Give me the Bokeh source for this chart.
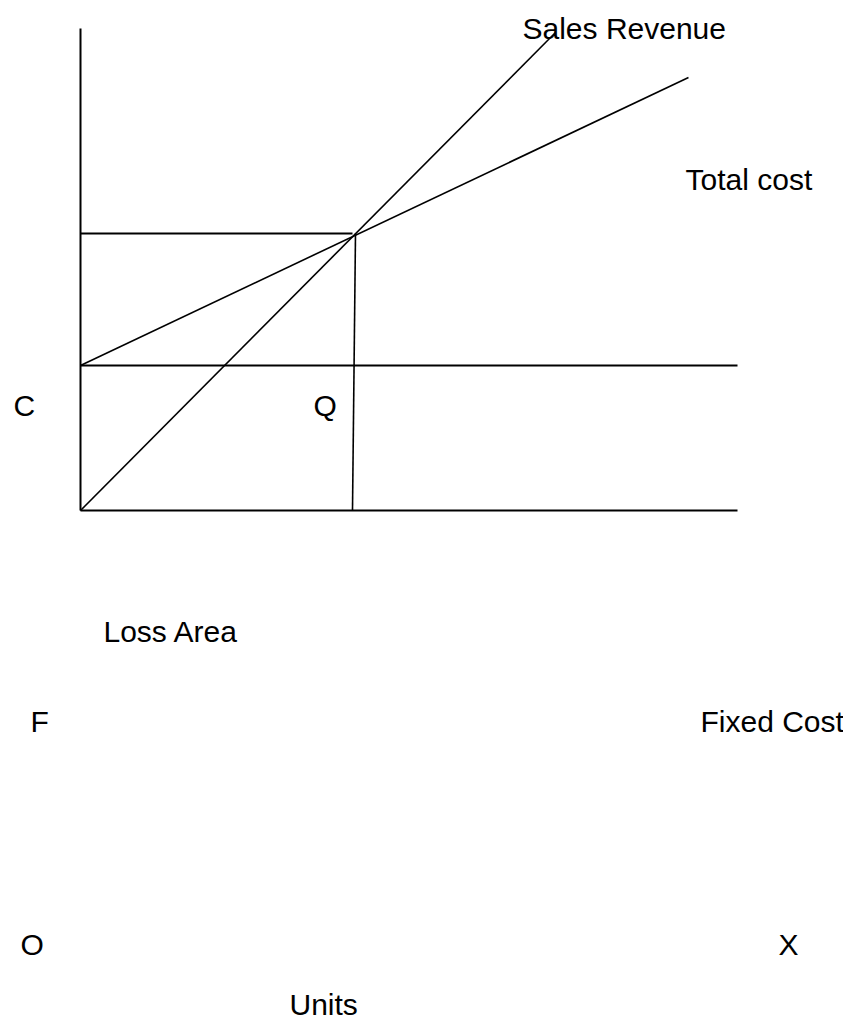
from bokeh.plotting import figure
from bokeh.models import Range1d, ColumnDataSource
from bokeh.core.properties import value
from bokeh.embed import file_html
from bokeh.resources import INLINE

# ---- data (units on x, money on y; origin at O) ----
revenue_x = [0, 475]
revenue_y = [0, 478]
total_cost_x = [0, 608]
total_cost_y = [145, 433]
fixed_cost_x = [0, 657]
fixed_cost_y = [145, 145]
breakeven_level_x = [0, 272]
breakeven_level_y = [277, 277]
breakeven_units_x = [275, 272]
breakeven_units_y = [277, 0]
x_axis_x = [0, 657]
x_axis_y = [0, 0]
y_axis_x = [0, 0]
y_axis_y = [0, 482]

labels = ["Sales Revenue", "Total cost", "C", "Q", "Loss Area", "F",
          "Fixed Cost", "O", "X", "Units"]
label_x = [442, 605, -67, 233, 23, -50, 620, -60, 698, 209]
label_y = [482, 331, 105, 105, -121, -211, -211, -434, -434, -494]

p = figure(width=843, height=1021, output_backend="svg", toolbar_location=None,
           x_range=Range1d(-80, 763), y_range=Range1d(-511, 510),
           min_border=0, min_border_left=0, min_border_right=0,
           min_border_top=0, min_border_bottom=0)
p.axis.visible = False
p.grid.visible = False
p.outline_line_color = None
p.background_fill_color = "white"
p.border_fill_color = "white"

lw = 2
p.line(y_axis_x, y_axis_y, line_color="black", line_width=lw)
p.line(x_axis_x, x_axis_y, line_color="black", line_width=lw)
p.line(fixed_cost_x, fixed_cost_y, line_color="black", line_width=lw)
p.line(breakeven_level_x, breakeven_level_y, line_color="black", line_width=lw)
p.line(breakeven_units_x, breakeven_units_y, line_color="black", line_width=1.6)
p.line(revenue_x, revenue_y, line_color="black", line_width=1.6)
p.line(total_cost_x, total_cost_y, line_color="black", line_width=1.6)

src = ColumnDataSource(dict(x=label_x, y=label_y, t=labels))
p.text(x="x", y="y", text="t", source=src, text_font=value("Liberation Sans"),
       text_font_size="30px", text_color="black", text_align="left",
       text_baseline="alphabetic")

open("out.html", "w").write(file_html(p, INLINE))
